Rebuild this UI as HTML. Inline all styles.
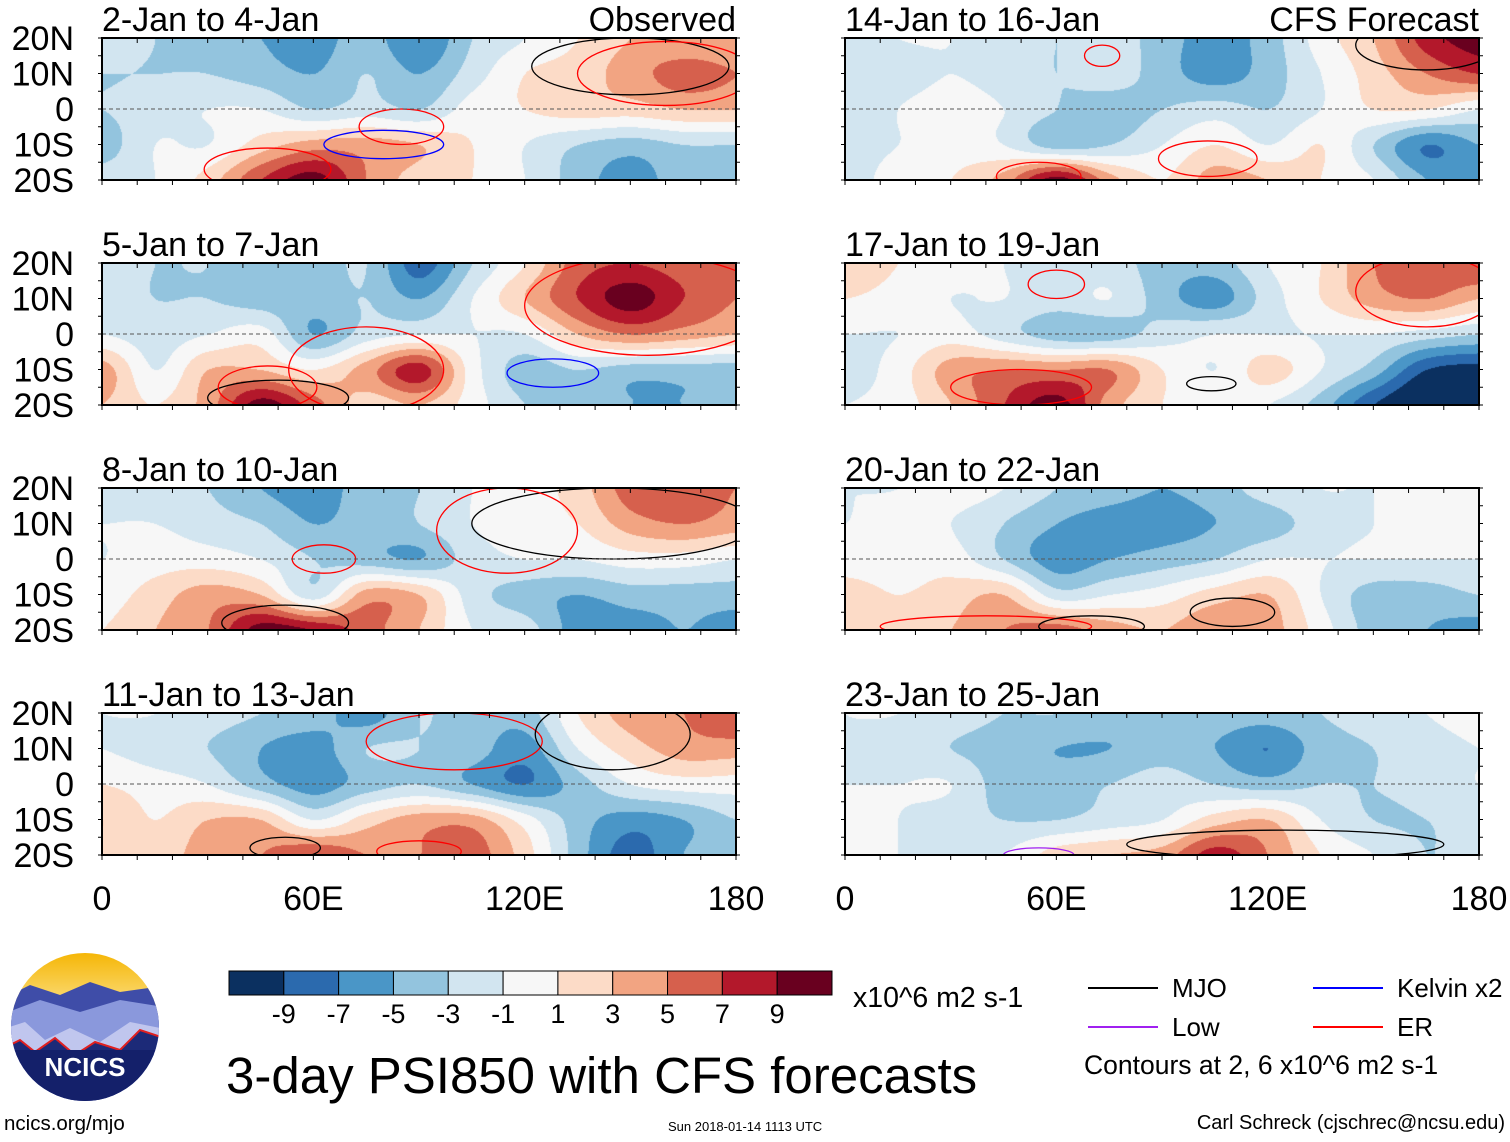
<!DOCTYPE html>
<html><head><meta charset="utf-8">
<style>
body{margin:0;background:#fff;width:1510px;height:1142px;overflow:hidden;position:relative;font-family:"Liberation Sans",sans-serif;}
.t{position:absolute;white-space:nowrap;color:#000;}
canvas{position:absolute;}
svg{position:absolute;left:0;top:0;}
</style></head><body>
<div id="root"></div>
<svg id="ov" width="1510" height="1142"></svg>

<div class="t" style="left:4px;top:1112px;font-size:20.5px">ncics.org/mjo</div>
<div class="t" style="left:668px;top:1119px;font-size:13px">Sun 2018-01-14 1113 UTC</div>
<div class="t" style="right:5px;top:1112px;font-size:20px">Carl Schreck (cjschrec@ncsu.edu)</div>
<div class="t" style="left:226px;top:1046px;font-size:51px">3-day PSI850 with CFS forecasts</div>
<div class="t" style="left:853px;top:982px;font-size:28.5px">x10^6 m2 s-1</div>
<div class="t" style="left:1084px;top:1050px;font-size:26.5px">Contours at 2, 6 x10^6 m2 s-1</div>

<script>
const levels=[-9,-7,-5,-3,-1,1,3,5,7,9];
const colors=["#0b3060","#2b6aae","#4a96c7","#93c4de","#d2e5f0","#f7f7f7","#fcdbc7","#f2a482","#d6604d","#b3182b","#69001f"];
const cbLabels=["-9","-7","-5","-3","-1","1","3","5","7","9"];
const panelTitles=["2-Jan to 4-Jan","14-Jan to 16-Jan","5-Jan to 7-Jan","17-Jan to 19-Jan","8-Jan to 10-Jan","20-Jan to 22-Jan","11-Jan to 13-Jan","23-Jan to 25-Jan"];
const latLabels=["20N","10N","0","10S","20S"];
const lonLabels=["0","60E","120E","180"];
const lonTicks=[0,60,120,180];
// grids: rows 20N,10N,0,10S,20S ; cols 0..180 every 15
const field0=[[-2,-3,-4,-5,-6,-4,-7,-3,-1,1,3,3,3],[-3,-3,-3,-4,-5,-3,-5,-2,1,2,4,6,5],[-3,-2,-1,-1,-3,-2,-3,0,1,2,2,3,3],[-4,-1,-1,2,4,4,3,1,-1,-3,-4,-3,-3],[-2,-1,2,7,10,5,2,1,-1,-4,-6,-4,-5]];
const field1=[[-2,-1,-1,-2,-3,-2,-4,-6,-4,0,3,8,10],[-2,-2,-1,-2,-3,-2,-4,-6,-4,-1,2,5,7],[-3,-1,0,-1,-3,-4,-3,-2,-3,-1,1,1,-1],[-2,-1,0,-1,-4,-3,-1,1,-1,1,-3,-7,-5],[-2,0,1,4,10,4,1,4,3,1,-1,-5,-6]];
const field2=[[-2,-3,-3,-4,-4,-3,-8,-3,1,6,7,6,5],[-2,-3,-3,-4,-4,-3,-5,-1,3,7,10,7,5],[-1,-2,-1,0,-5,-2,-1,-1,-1,3,5,4,3],[4,-1,3,3,1,4,8,0,-4,-3,-4,-4,-4],[3,1,4,10,6,2,3,0,-3,-4,-5,-5,-4]];
const field3=[[3,1,0,-1,-2,-2,-4,-4,-1,1,5,6,7],[1,0,-1,-1,-2,-1,-4,-6,-2,1,4,5,3],[-1,-1,0,-2,-4,-4,-2,-1,-1,-1,-1,-2,-3],[-2,0,4,5,5,5,1,-1,2,-1,-4,-9,-10],[-1,0,3,7,10,4,1,0,-1,-4,-9,-12,-12]];
const field4=[[-2,-2,-3,-5,-6,-4,-3,-1,0,2,6,6,5],[-1,-1,-2,-3,-5,-4,-3,-1,0,1,4,5,4],[-1,0,0,-1,-3,-4,-5,-2,-1,-1,0,0,-1],[0,2,4,3,-2,4,3,-2,-4,-5,-4,-4,-4],[1,3,5,10,9,6,3,-1,-2,-6,-6,-5,-6]];
const field5=[[-1,-1,0,-1,-3,-4,-5,-4,-2,-1,-1,0,0],[-1,0,-1,-3,-5,-6,-6,-5,-4,-2,-1,0,0],[0,0,0,-3,-6,-5,-4,-3,-1,-1,-1,-1,-1],[2,1,2,3,-2,-1,0,2,3,-1,-4,-4,-3],[3,2,3,5,6,4,3,5,4,0,-4,-5,-6]];
const field6=[[-1,-1,-2,-3,-4,-6,-3,-4,-4,1,4,5,7],[-1,-2,-3,-5,-6,-3,-3,-4,-6,-1,2,4,4],[1,0,-1,-4,-6,-4,-3,-5,-7,-4,-1,0,0],[3,1,3,3,-1,2,4,4,0,-4,-6,-5,-3],[2,2,4,5,7,5,5,6,2,-4,-8,-5,-4]];
const field7=[[-1,-1,-2,-3,-3,-4,-5,-4,-4,-3,-2,-1,0],[-1,-2,-3,-4,-5,-5,-4,-5,-7,-4,-3,-2,-1],[-1,-1,-1,-4,-4,-3,-2,-3,-4,-3,-3,-2,-1],[-1,-1,-2,-3,-3,-2,-1,2,3,-1,-3,-3,-2],[-1,-1,-2,-1,2,3,4,8,5,1,-1,-3,-2]];
const fields=[field0,field1,field2,field3,field4,field5,field6,field7];
// contour ellipses: [panel, lonCenter, latCenter, lonRadius, latRadius, type]
const contours=[[0,150,12,28,8,"mjo"],[0,47,-17,18,6,"er"],[0,80,-10,17,4,"kelvin"],[0,160,10,25,9,"er"],[0,85,-5,12,5,"er"],
[1,73,15,5,3,"er"],[1,165,18,20,7,"mjo"],[1,55,-19,12,4,"er"],[1,103,-14,14,5,"er"],
[2,155,8,35,14,"er"],[2,50,-18,20,5,"mjo"],[2,75,-10,22,12,"er"],[2,128,-11,13,4,"kelvin"],[2,47,-15,14,6,"er"],
[3,60,14,8,4,"er"],[3,165,12,20,10,"er"],[3,104,-14,7,2,"mjo"],[3,50,-15,20,5,"er"],
[4,145,10,40,10,"mjo"],[4,115,8,20,12,"er"],[4,52,-18,18,5,"mjo"],[4,63,0,9,4,"er"],
[5,110,-15,12,4,"mjo"],[5,40,-19,30,3,"er"],[5,70,-19,15,3,"mjo"],
[6,100,12,25,8,"er"],[6,145,14,22,10,"mjo"],[6,52,-18,10,3,"mjo"],[6,90,-19,12,3,"er"],
[7,125,-17,45,4,"mjo"],[7,55,-20,10,2,"low"]];
const cCols={mjo:"#000",er:"#f00",kelvin:"#00f",low:"#a020f0"};

const NS="http://www.w3.org/2000/svg";
const ov=document.getElementById('ov');
const root=document.getElementById('root');
const PW=634,PH=142;
const lefts=[102,845],tops=[38,263,488,713];
function lonX(px0,lon){return px0+lon/180*PW;}
function latY(py0,lat){return py0+(20-lat)/40*PH;}
function hex(c){return [parseInt(c.substr(1,2),16),parseInt(c.substr(3,2),16),parseInt(c.substr(5,2),16)];}
function cr(p0,p1,p2,p3,t){return 0.5*((2*p1)+(-p0+p2)*t+(2*p0-5*p1+4*p2-p3)*t*t+(-p0+3*p1-3*p2+p3)*t*t*t);}
function g2(g,j,i){j=Math.max(0,Math.min(4,j));i=Math.max(0,Math.min(12,i));return g[j][i];}
function sample(g,lon,lat){
 let fi=lon/15, fj=(20-lat)/10;
 let i=Math.min(11,Math.floor(fi)), j=Math.min(3,Math.floor(fj));
 let a=fi-i,b=fj-j;
 const r=[];
 for(let k=-1;k<=2;k++)r.push(cr(g2(g,j+k,i-1),g2(g,j+k,i),g2(g,j+k,i+1),g2(g,j+k,i+2),a));
 return cr(r[0],r[1],r[2],r[3],b);
}
function txt(x,y,s,size,anchor,name){
 const t=document.createElementNS(NS,'text');
 t.setAttribute('x',x);t.setAttribute('y',y);t.setAttribute('font-size',size);
 t.setAttribute('font-family','Liberation Sans, sans-serif');
 t.setAttribute('text-anchor',anchor||'start');
 
 
 t.textContent=s;ov.appendChild(t);return t;
}
function line(x1,y1,x2,y2,col,w,name,dash){
 const l=document.createElementNS(NS,'line');
 l.setAttribute('x1',x1);l.setAttribute('y1',y1);l.setAttribute('x2',x2);l.setAttribute('y2',y2);
 l.setAttribute('stroke',col);l.setAttribute('stroke-width',w);
 if(dash)l.setAttribute('stroke-dasharray',dash);
 
 
 ov.appendChild(l);return l;
}
fields.forEach((g,p)=>{
 const col=p%2,row=Math.floor(p/2);
 const x0=lefts[col],y0=tops[row];
 const cv=document.createElement('canvas');
 cv.width=PW;cv.height=PH;cv.style.left=x0+'px';cv.style.top=y0+'px';
 
 
 root.appendChild(cv);
 const ctx=cv.getContext('2d');const im=ctx.createImageData(PW,PH);
 const rgb=colors.map(hex);
 for(let y=0;y<PH;y++)for(let x=0;x<PW;x++){
  const v=sample(g,x/PW*180,20-y/PH*40);
  let k=0;while(k<levels.length&&v>levels[k])k++;
  const c=rgb[k],o=(y*PW+x)*4;im.data[o]=c[0];im.data[o+1]=c[1];im.data[o+2]=c[2];im.data[o+3]=255;
 }
 ctx.putImageData(im,0,0);
 const cp=document.createElementNS(NS,'clipPath');cp.setAttribute('id','clip'+p);
 const crr=document.createElementNS(NS,'rect');crr.setAttribute('x',x0);crr.setAttribute('y',y0);crr.setAttribute('width',PW);crr.setAttribute('height',PH);
 cp.appendChild(crr);ov.appendChild(cp);
 contours.filter(c=>c[0]===p).forEach(c=>{
  const e=document.createElementNS(NS,'ellipse');
  e.setAttribute('cx',lonX(x0,c[1]));e.setAttribute('cy',latY(y0,c[2]));
  e.setAttribute('rx',c[3]/180*PW);e.setAttribute('ry',c[4]/40*PH);
  e.setAttribute('fill','none');e.setAttribute('stroke',cCols[c[5]]);e.setAttribute('stroke-width',1.3);
  e.setAttribute('clip-path','url(#clip'+p+')');
  
  
  ov.appendChild(e);
 });
 line(x0,latY(y0,0),x0+PW,latY(y0,0),'#555',1,'equator-line','4,3');
 const fr=document.createElementNS(NS,'rect');
 fr.setAttribute('x',x0);fr.setAttribute('y',y0);fr.setAttribute('width',PW);fr.setAttribute('height',PH);
 fr.setAttribute('fill','none');fr.setAttribute('stroke','#000');fr.setAttribute('stroke-width',2);
 
 
 ov.appendChild(fr);
 for(let lon=0;lon<=180;lon+=10){const X=lonX(x0,lon);line(X,y0,X,y0+5,'#000',1,'tick');line(X,y0+PH,X,y0+PH+5,'#000',1,'tick');}
 for(let lat=-20;lat<=20;lat+=5){const Y=latY(y0,lat);line(x0-4,Y,x0,Y,'#000',1,'tick');line(x0+PW,Y,x0+PW+4,Y,'#000',1,'tick');}
 txt(x0,y0-7,panelTitles[p],34,'start','panel-title');
 if(p===0)txt(x0+PW,y0-7,'Observed',34,'end','observed-label');
 if(p===1)txt(x0+PW,y0-7,'CFS Forecast',34,'end','forecast-label');
 if(col===0)latLabels.forEach((s,i)=>txt(x0-28,y0+i*PH/4+12,s,34,'end','lat-label'));
});
[0,1].forEach(col=>lonLabels.forEach((s,i)=>txt(lonX(lefts[col],lonTicks[i]),910,s,34,'middle','lon-label')));
// colorbar
const cbx=229,cbw=603/11;
colors.forEach((c,i)=>{
 const r=document.createElementNS(NS,'rect');
 r.setAttribute('x',cbx+i*cbw);r.setAttribute('y',971);r.setAttribute('width',cbw);r.setAttribute('height',24);
 r.setAttribute('fill',c);r.setAttribute('stroke','#000');r.setAttribute('stroke-width',1);
 
 
 ov.appendChild(r);
});
cbLabels.forEach((s,i)=>txt(cbx+(i+1)*cbw,1023,s,27,'middle','colorbar-label'));
// legend
const leg=[["MJO","#000",1088,988],["Kelvin x2","#00f",1313,988],["Low","#a020f0",1088,1027],["ER","#f00",1313,1027]];
leg.forEach(l=>{line(l[2],l[3],l[2]+70,l[3],l[1],2,'legend-line');txt(l[2]+84,l[3]+9,l[0],26,'start','legend-entry');});
// logo
const lg=`<defs><linearGradient id="sky" x1="0" y1="0" x2="0" y2="1"><stop offset="0" stop-color="#f5b400"/><stop offset="0.45" stop-color="#fde9a0"/><stop offset="0.5" stop-color="#9aa6e0"/></linearGradient><clipPath id="lc"><circle cx="85" cy="1027" r="74"/></clipPath></defs>
<g clip-path="url(#lc)">
<rect x="0" y="950" width="170" height="160" fill="url(#sky)"/>
<path d="M0 1000 L30 985 L60 995 L90 982 L120 992 L170 985 L170 1110 L0 1110Z" fill="#3f4da8"/>
<path d="M0 1015 L40 1000 L80 1012 L120 1000 L170 1008 L170 1110 L0 1110Z" fill="#8a98dc"/>
<path d="M0 1030 L25 1022 L45 1040 L70 1028 L100 1042 L130 1022 L170 1030 L170 1110 L0 1110Z" fill="#c0c6ee"/>
<path d="M0 1050 L20 1040 L35 1052 L55 1038 L75 1055 L95 1042 L120 1050 L140 1030 L170 1040 L170 1110 L0 1110Z" fill="#1c2a78" stroke="#e02020" stroke-width="2"/>
<rect x="0" y="1050" width="170" height="60" fill="#14206a"/>
<text x="85" y="1076" font-size="26" font-weight="bold" fill="#fff" text-anchor="middle" font-family="Liberation Sans, sans-serif">NCICS</text></g>`;
ov.insertAdjacentHTML('beforeend',lg);
</script>
</body></html>
